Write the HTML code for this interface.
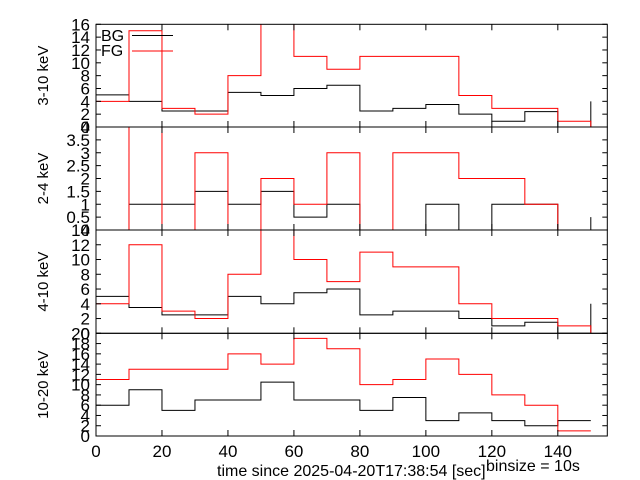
<!DOCTYPE html>
<html><head><meta charset="utf-8"><style>
html,body{margin:0;padding:0;background:#fff;}
svg{display:block;font-family:"Liberation Sans",sans-serif;}
</style></head><body>
<svg id="chart" width="640" height="480" viewBox="0 0 640 480" xmlns="http://www.w3.org/2000/svg"></svg>
<script>
const binEdges = [0,10,20,30,40,50,60,70,80,90,100,110,120,130,140,150];
const xTicks = [0,20,40,60,80,100,120,140];
const panelNames = ["3-10 keV","2-4 keV","4-10 keV","10-20 keV"];
const panelMax = [16,4,14,20];
const yTicks1 = [0,2,4,6,8,10,12,14,16];
const yTicks2 = [0,0.5,1,1.5,2,2.5,3,3.5,4];
const yTicks3 = [0,2,4,6,8,10,12,14];
const yTicks4 = [0,2,4,6,8,10,12,14,16,18,20];
const bg1 = [5,4,2.5,2.5,5.4,4.9,6,6.5,2.5,2.9,3.5,2,0.9,2.4,0];
const fg1 = [4,15,2.9,2,8,20,11,9,11,11,11,4.9,2.9,2.9,0.9];
const bg2 = [0,1,1,1.5,1,1.5,0.5,1,0,0,1,0,1,1,0];
const fg2 = [0,5,0,3,0,2,1,3,0,3,3,2,2,1,0];
const bg3 = [5,3.5,2.5,2.5,5,4,5.5,6,2.5,3,3,2,1,1.5,0];
const fg3 = [4,12,3,2,8,16,10,7,11,9,9,4,2,2,1];
const bg4 = [6,9,5,7,7,10.5,7,7,5,7.5,3,4.5,3,2,3];
const fg4 = [11,13,13,13,16,14,19,17,10,11,15,12,8,6,1];
const bgEnd = [4,0.5,4,null];
const fgEnd = [0,0,0,null];

const svg = document.getElementById('chart');
const NS = 'http://www.w3.org/2000/svg';
const L = 96, R = 607.3, XMAX = 155;
const tops = [24.3,127,230,333.3], bots = [127,230,333.3,436];
const xs = v => L + v/XMAX*(R-L);
function mk(tag, attrs, parent){const e=document.createElementNS(NS,tag);for(const k in attrs)e.setAttribute(k,attrs[k]);(parent||svg).appendChild(e);return e;}

const defs = mk('defs',{});
const bgs=[bg1,bg2,bg3,bg4], fgs=[fg1,fg2,fg3,fg4], yts=[yTicks1,yTicks2,yTicks3,yTicks4];
for(let p=0;p<4;p++){
  const top=tops[p], bot=bots[p], max=panelMax[p];
  const ys = v => bot - v/max*(bot-top);
  const cp = mk('clipPath',{id:'clip'+p},defs);
  mk('rect',{x:L,y:top,width:R-L,height:bot-top},cp);
  const g = mk('g',{});
  
  
  function series(vals,end,color,name){
    let d='M'+xs(binEdges[0])+','+ys(vals[0])+' H'+xs(binEdges[1]);
    for(let i=1;i<vals.length;i++){d+=' V'+ys(vals[i])+' H'+xs(binEdges[i+1]);}
    if(end!==null) d+=' V'+ys(end);
    const pth = mk('path',{d:d,fill:'none',stroke:color,'stroke-width':1,'clip-path':'url(#clip'+p+')'},g);
    
    
  }
  series(bgs[p],bgEnd[p],'#000','bg-series-panel-'+(p+1));
  series(fgs[p],fgEnd[p],'#f00','fg-series-panel-'+(p+1));
  const fr = mk('rect',{x:L,y:top,width:R-L,height:bot-top,fill:'none',stroke:'#000','stroke-width':1},g);
  
  
  for(const t of xTicks){
    const x=xs(t);
    mk('line',{x1:x,x2:x,y1:bot,y2:bot-6,stroke:'#000'},g);
    mk('line',{x1:x,x2:x,y1:top,y2:top+6,stroke:'#000'},g);
  }
  for(const t of yts[p]){
    const y=ys(t);
    mk('line',{x1:L,x2:L+5,y1:y,y2:y,stroke:'#000'},g);
    mk('line',{x1:R,x2:R-5,y1:y,y2:y,stroke:'#000'},g);
    const tl = mk('text',{x:90,y:y+6,'text-anchor':'end','font-size':17,fill:'#000'},g);
    
    
    tl.textContent=String(t);
  }
  const cy=(top+bot)/2;
  const yl = mk('text',{x:0,y:0,'text-anchor':'middle','font-size':15,transform:'translate(48,'+cy+') rotate(-90)'},g);
  
  
  yl.textContent=panelNames[p];
}
for(const t of xTicks){
  const xl = mk('text',{x:xs(t),y:457,'text-anchor':'middle','font-size':17});
  
  
  xl.textContent=String(t);
}
const xt = mk('text',{x:217,y:476,'font-size':16});


xt.textContent='time since 2025-04-20T17:38:54 [sec]';
const bs = mk('text',{x:486,y:471,'font-size':16});


bs.textContent='binsize = 10s';
// legend
const lg = mk('g',{});


const t1 = mk('text',{x:101,y:41,'font-size':16},lg);


t1.textContent='BG';
mk('line',{x1:132,x2:173,y1:35.5,y2:35.5,stroke:'#000'},lg);
const t2 = mk('text',{x:101,y:56,'font-size':16},lg);


t2.textContent='FG';
mk('line',{x1:132,x2:173,y1:51,y2:51,stroke:'#f00'},lg);
</script>
</body></html>
